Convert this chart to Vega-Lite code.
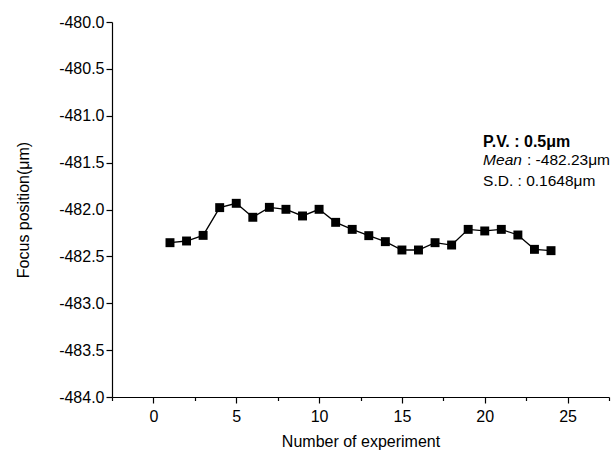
{
  "$schema": "https://vega.github.io/schema/vega-lite/v6.json",
  "width": 497,
  "height": 375,
  "autosize": {"type": "none"},
  "padding": {"left": 112, "top": 22, "right": 5, "bottom": 62},
  "background": "white",
  "config": {
    "view": {"stroke": null},
    "font": "Liberation Sans",
    "axis": {
      "grid": false,
      "domainColor": "black",
      "domainWidth": 1.2,
      "tickColor": "black",
      "tickWidth": 1.2,
      "labelColor": "black",
      "titleColor": "black",
      "labelFontSize": 16,
      "titleFontSize": 16,
      "titleFontWeight": "normal",
      "labelOverlap": false,
      "labelBound": false
    }
  },
  "data": {
    "values": [
      {"n": 1, "focus": -482.354},
      {"n": 2, "focus": -482.336},
      {"n": 3, "focus": -482.276},
      {"n": 4, "focus": -481.98},
      {"n": 5, "focus": -481.934},
      {"n": 6, "focus": -482.083},
      {"n": 7, "focus": -481.977},
      {"n": 8, "focus": -481.998},
      {"n": 9, "focus": -482.069},
      {"n": 10, "focus": -481.998},
      {"n": 11, "focus": -482.137},
      {"n": 12, "focus": -482.212},
      {"n": 13, "focus": -482.279},
      {"n": 14, "focus": -482.343},
      {"n": 15, "focus": -482.432},
      {"n": 16, "focus": -482.432},
      {"n": 17, "focus": -482.354},
      {"n": 18, "focus": -482.379},
      {"n": 19, "focus": -482.212},
      {"n": 20, "focus": -482.229},
      {"n": 21, "focus": -482.212},
      {"n": 22, "focus": -482.272},
      {"n": 23, "focus": -482.425},
      {"n": 24, "focus": -482.439}
    ]
  },
  "layer": [
    {
      "mark": {"type": "line", "color": "black", "strokeWidth": 1.3},
      "encoding": {
        "x": {
          "field": "n",
          "type": "quantitative",
          "scale": {"domain": [-2.5, 27.5], "nice": false, "zero": false},
          "axis": {
            "title": "Number of experiment",
            "values": [-2.5, 0, 2.5, 5, 7.5, 10, 12.5, 15, 17.5, 20, 22.5, 25, 27.5],
            "labelExpr": "datum.value % 5 == 0 ? format(datum.value, 'd') : ''",
            "tickSize": {"condition": {"test": "datum.value % 5 == 0", "value": 6}, "value": 3.5},
            "labelPadding": 5,
            "titlePadding": 9
          }
        },
        "y": {
          "field": "focus",
          "type": "quantitative",
          "scale": {"domain": [-484, -480], "nice": false, "zero": false},
          "axis": {
            "title": "Focus position(μm)",
            "values": [-484, -483.75, -483.5, -483.25, -483, -482.75, -482.5, -482.25, -482, -481.75, -481.5, -481.25, -481, -480.75, -480.5, -480.25, -480],
            "labelExpr": "abs(datum.value * 2 - round(datum.value * 2)) < 0.001 ? '-' + format(abs(datum.value), '.1f') : ''",
            "tickSize": {"condition": {"test": "abs(datum.value * 2 - round(datum.value * 2)) < 0.001", "value": 6}, "value": 3.5},
            "labelPadding": 2,
            "titlePadding": 27
          }
        }
      }
    },
    {
      "mark": {"type": "square", "color": "black", "filled": true, "opacity": 1, "size": 80},
      "encoding": {
        "x": {"field": "n", "type": "quantitative"},
        "y": {"field": "focus", "type": "quantitative"}
      }
    },
    {
      "data": {"values": [{"label": "P.V. : 0.5μm"}]},
      "mark": {"type": "text", "align": "left", "baseline": "middle", "fontWeight": "bold", "fontSize": 16, "color": "black"},
      "encoding": {
        "text": {"field": "label"},
        "x": {"datum": 19.9, "type": "quantitative"},
        "y": {"datum": -481.28, "type": "quantitative"}
      }
    },
    {
      "data": {"values": [{"label": "Mean"}]},
      "mark": {"type": "text", "align": "left", "baseline": "middle", "fontStyle": "italic", "fontSize": 15.5, "color": "black"},
      "encoding": {
        "text": {"field": "label"},
        "x": {"datum": 19.9, "type": "quantitative"},
        "y": {"datum": -481.47, "type": "quantitative"}
      }
    },
    {
      "data": {"values": [{"label": " : -482.23μm"}]},
      "mark": {"type": "text", "align": "left", "baseline": "middle", "fontSize": 15.5, "color": "black"},
      "encoding": {
        "text": {"field": "label"},
        "x": {"datum": 22.55, "type": "quantitative"},
        "y": {"datum": -481.47, "type": "quantitative"}
      }
    },
    {
      "data": {"values": [{"label": "S.D. : 0.1648μm"}]},
      "mark": {"type": "text", "align": "left", "baseline": "middle", "fontSize": 15.5, "color": "black"},
      "encoding": {
        "text": {"field": "label"},
        "x": {"datum": 19.9, "type": "quantitative"},
        "y": {"datum": -481.7, "type": "quantitative"}
      }
    }
  ]
}
